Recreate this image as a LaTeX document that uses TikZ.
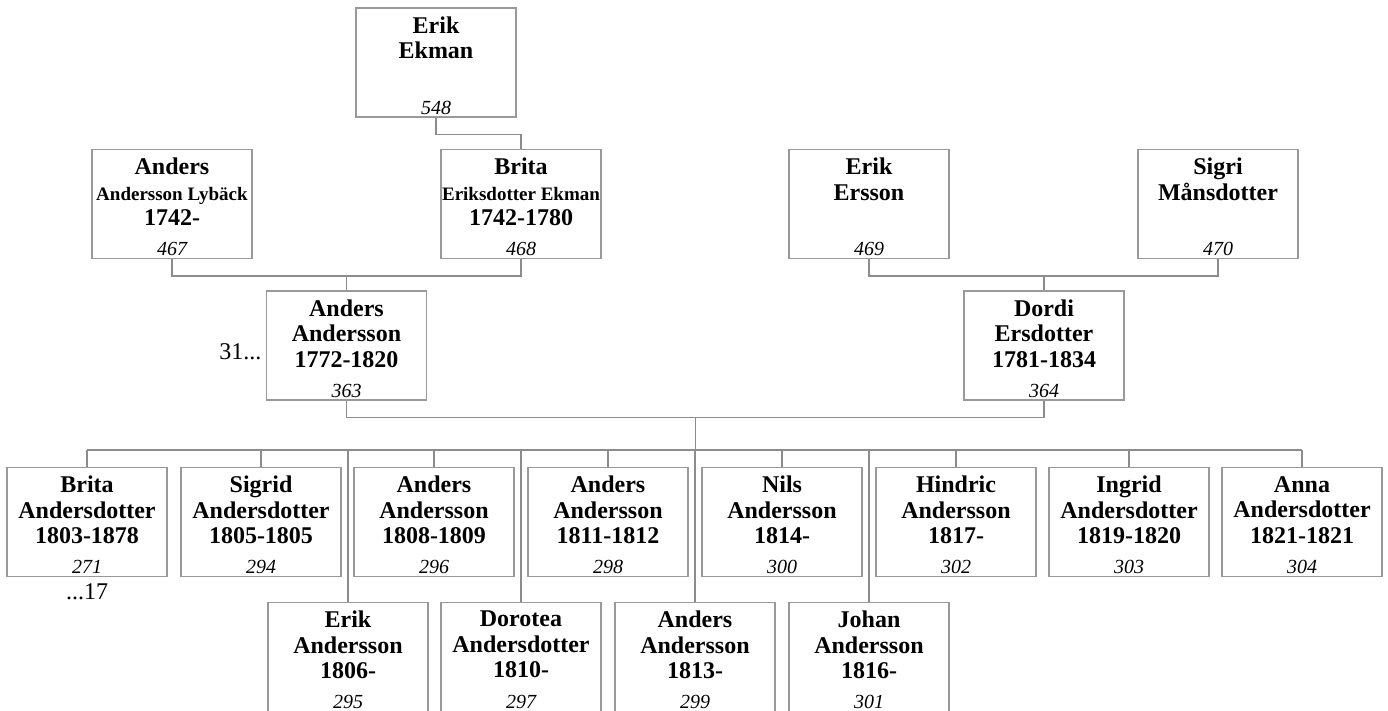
\documentclass[tikz,border=0pt]{standalone}
\usepackage{fontspec}
\setmainfont{Liberation Serif}
\usetikzlibrary{calc}

\tikzset{
  pbox/.style={draw=black!40,line width=0.7pt,fill=white,minimum width=80pt,minimum height=54.5pt,inner sep=0pt},
  ptext/.style={anchor=north,yshift=-4.5pt,inner sep=0pt,align=center,font=\fontsize{12}{12.75}\selectfont\bfseries},
  pnum/.style={anchor=south,yshift=1.5pt,inner sep=0pt,font=\fontsize{10}{12}\selectfont\itshape},
  link/.style={draw=black!45,line width=0.7pt},
  note/.style={inner sep=0pt,font=\fontsize{12}{14}\selectfont}
}
% box, names at the top, number at the bottom
\newcommand{\pers}[4]{%
  \node[pbox] (#1) at (#2) {};
  \node[ptext] (#1t) at (#1.north) {#3};
  \node[pnum] (#1n) at (#1.south) {#4};
}
\newcommand{\smallname}[1]{{\fontsize{9.5}{13}\selectfont #1}}

\begin{document}
\begin{tikzpicture}[x=0.5pt,y=-0.5pt]
  \useasboundingbox (0,0) rectangle (1388,711);
  \coordinate (bus) at (0,450);

  % ancestors
  \pers{p548}{436,62.5}{Erik\\Ekman}{548}
  \pers{p467}{172,204}{Anders\\\smallname{Andersson Lybäck}\\1742-}{467}
  \pers{p468}{521,204}{Brita\\\smallname{Eriksdotter Ekman}\\1742-1780}{468}
  \pers{p469}{869,204}{Erik\\Ersson}{469}
  \pers{p470}{1218,204}{Sigri\\Månsdotter}{470}

  % couple
  \pers{p363}{346.5,345.5}{Anders\\Andersson\\1772-1820}{363}
  \pers{p364}{1044,345.5}{Dordi\\Ersdotter\\1781-1834}{364}
  \node[note,anchor=east] (pre363) at ([xshift=-2pt,yshift=-3.2pt]p363.west) {31...};

  \draw[link] (p548.south) -- ++(0,17) -| (p468.north);
  \draw[link] (p467.south) -- ++(0,17) coordinate (j1) -| (p468.south);
  \draw[link] (p363.north) -- (p363.north |- j1);
  \draw[link] (p469.south) -- ++(0,17) coordinate (j2) -| (p470.south);
  \draw[link] (p364.north) -- (p364.north |- j2);
  \draw[link] (p363.south) -- ++(0,17) coordinate (j3) -| (p364.south);
  \coordinate (cm) at ($(p363.south)!.5!(p364.south)$);
  \draw[link] (cm |- j3) -- (cm |- bus);

  % children, first row
  \foreach \id/\x/\who/\nr in {
    c271/87/{Brita\\Andersdotter\\1803-1878}/271,
    c294/261/{Sigrid\\Andersdotter\\1805-1805}/294,
    c296/434/{Anders\\Andersson\\1808-1809}/296,
    c298/608/{Anders\\Andersson\\1811-1812}/298,
    c300/782/{Nils\\Andersson\\1814-}/300,
    c302/956/{Hindric\\Andersson\\1817-}/302,
    c303/1129/{Ingrid\\Andersdotter\\1819-1820}/303,
    c304/1302/{Anna\\Andersdotter\\1821-1821}/304}
  {
    \pers{\id}{\x,522}{\who}{\nr}
    \draw[link] (\id.north) -- (\id.north |- bus);
  }
  % children, second row
  \foreach \id/\x/\who/\nr in {
    c295/348/{Erik\\Andersson\\1806-}/295,
    c297/521/{Dorotea\\Andersdotter\\1810-}/297,
    c299/695/{Anders\\Andersson\\1813-}/299,
    c301/869/{Johan\\Andersson\\1816-}/301}
  {
    \pers{\id}{\x,657}{\who}{\nr}
    \draw[link] (\id.north) -- (\id.north |- bus);
  }
  \draw[link] (c271.north |- bus) -- (c304.north |- bus);
  \node[note,anchor=north] (post271) at ([yshift=-3pt]c271.south) {...17};
\end{tikzpicture}
\end{document}
